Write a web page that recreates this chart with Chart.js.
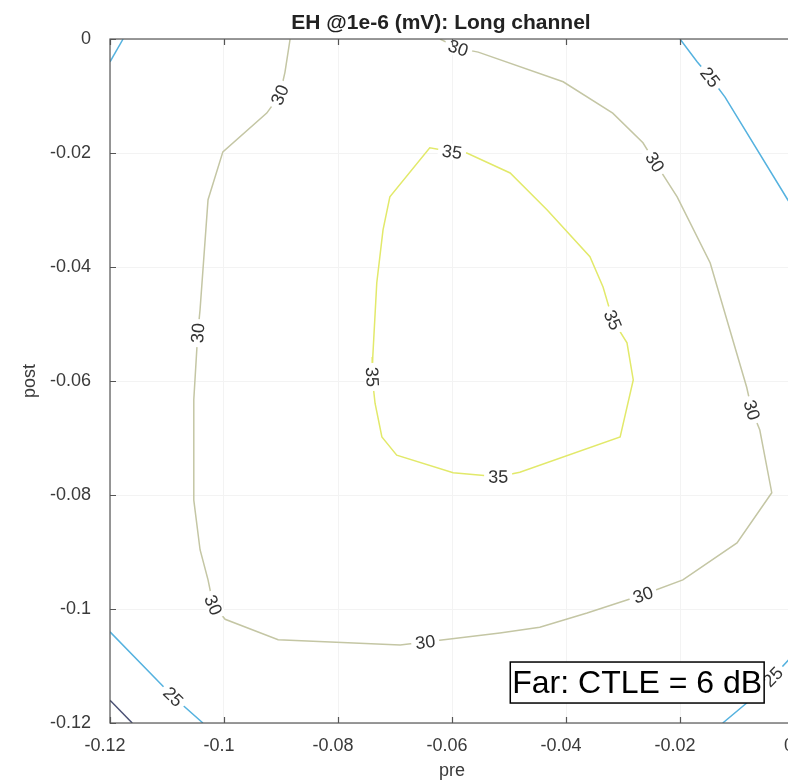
<!DOCTYPE html>
<html>
<head>
<meta charset="utf-8">
<script src="https://cdn.jsdelivr.net/npm/chart.js@4.4.1/dist/chart.umd.min.js"></script>
<style>
  html, body { margin: 0; padding: 0; background: #fff; overflow: hidden; }
  #wrap { position: relative; width: 840px; height: 783px; }
</style>
</head>
<body>
<div id="wrap"><canvas id="eh"></canvas></div>
<script>
// Eye height (mV) at 1e-6 over pre/post cursor taps, contour levels 20/25/30/35
const xTicks = [-0.12, -0.1, -0.08, -0.06, -0.04, -0.02, 0];
const yTicks = [-0.12, -0.1, -0.08, -0.06, -0.04, -0.02, 0];
const xTickLabels = ['-0.12', '-0.1', '-0.08', '-0.06', '-0.04', '-0.02', '0'];
const yTickLabels = ['-0.12', '-0.1', '-0.08', '-0.06', '-0.04', '-0.02', '0'];

// contour vertices as [pre, post]
const c20 = [[-0.1200, -0.1160], [-0.1161, -0.1200]];

const c25TopLeft = [[-0.1200, -0.0040], [-0.1177, 0.0000]];
const c25TopRight = [
    [-0.0200, 0.0000], [-0.0170, -0.0040], [-0.0147, -0.0067],
    [-0.0121, -0.0102], [-0.0011, -0.0282], [0.0000, -0.0298]
];
const c25BottomLeft = [[-0.1200, -0.1040], [-0.1089, -0.1154], [-0.1037, -0.1200]];
const c25BottomRight = [
    [-0.0125, -0.1200], [-0.0083, -0.1165], [-0.0037, -0.1119], [0.0000, -0.1079]
];

const c30 = [
    [-0.0884, 0.0000], [-0.0893, -0.0058], [-0.0902, -0.0098], [-0.0925, -0.0130],
    [-0.1002, -0.0198], [-0.1028, -0.0282], [-0.1042, -0.0475], [-0.1046, -0.0516],
    [-0.1053, -0.0633], [-0.1053, -0.0726], [-0.1053, -0.0809], [-0.1042, -0.0896],
    [-0.1028, -0.0949], [-0.1019, -0.0993], [-0.0998, -0.1018], [-0.0905, -0.1054],
    [-0.0691, -0.1063], [-0.0647, -0.1058], [-0.0516, -0.1042], [-0.0446, -0.1032],
    [-0.0363, -0.1007], [-0.0265, -0.0975], [-0.0195, -0.0949], [-0.0100, -0.0884],
    [-0.0039, -0.0796], [-0.0060, -0.0686], [-0.0074, -0.0651], [-0.0083, -0.0611],
    [-0.0147, -0.0393], [-0.0205, -0.0277], [-0.0244, -0.0216], [-0.0265, -0.0182],
    [-0.0318, -0.0130], [-0.0405, -0.0075], [-0.0554, -0.0023], [-0.0589, -0.0016],
    [-0.0621, 0.0000]
];

const c35 = [
    [-0.0600, -0.0198], [-0.0639, -0.0191], [-0.0709, -0.0277], [-0.0721, -0.0335],
    [-0.0732, -0.0428], [-0.0739, -0.0558], [-0.0740, -0.0593], [-0.0735, -0.0639],
    [-0.0723, -0.0698], [-0.0697, -0.0730], [-0.0598, -0.0761], [-0.0519, -0.0768],
    [-0.0481, -0.0760], [-0.0305, -0.0698], [-0.0282, -0.0598], [-0.0293, -0.0533],
    [-0.0318, -0.0493], [-0.0335, -0.0435], [-0.0358, -0.0382], [-0.0433, -0.0300],
    [-0.0498, -0.0235], [-0.0574, -0.0200], [-0.0600, -0.0198]
];

// vertex indices where clabel text sits
const labels25TopRight = [2];
const labels25BottomLeft = [1];
const labels25BottomRight = [2];
const labels30 = [2, 7, 13, 17, 21, 26, 30, 35];
const labels35 = [0, 6, 11, 16];

const noteText = 'Far: CTLE = 6 dB';
const notePos = [-0.0496, -0.1129];
const titleText = 'EH @1e-6 (mV): Long channel';

const levelColors = { 20: '#4b5175', 25: '#55b2df', 30: '#c4c6a4', 35: '#e2e96a' };
const FONT = '"Liberation Sans", Arial, sans-serif';
const TEXT = '#3a3a3a';

function contour(level, pts, labelAt, closed) {
    return {
        label: String(level),
        level: level,
        data: pts.map(p => ({ x: p[0], y: p[1] })),
        labelAt: labelAt || [],
        closed: !!closed,
        showLine: true,
        borderColor: levelColors[level],
        borderWidth: 1.5,
        pointRadius: 0,
        tension: 0,
        fill: false
    };
}

const datasets = [
    contour(20, c20),
    contour(25, c25TopLeft),
    contour(25, c25TopRight, labels25TopRight),
    contour(25, c25BottomLeft, labels25BottomLeft),
    contour(25, c25BottomRight, labels25BottomRight),
    contour(30, c30, labels30),
    contour(35, c35, labels35, true)
];

// inline level labels, rotated along the line and kept upright
const contourLabels = {
    id: 'contourLabels',
    afterDatasetsDraw(chart) {
        const { ctx, scales: { x, y } } = chart;
        ctx.save();
        ctx.font = '18px ' + FONT;
        ctx.textAlign = 'center';
        ctx.textBaseline = 'middle';
        chart.data.datasets.forEach(ds => {
            const pts = ds.data;
            const n = pts.length;
            ds.labelAt.forEach(i => {
                const prev = i > 0 ? pts[i - 1] : (ds.closed ? pts[n - 2] : pts[i]);
                const next = i < n - 1 ? pts[i + 1] : pts[i];
                const px = x.getPixelForValue(pts[i].x);
                const py = y.getPixelForValue(pts[i].y);
                let ang = Math.atan2(
                    y.getPixelForValue(next.y) - y.getPixelForValue(prev.y),
                    x.getPixelForValue(next.x) - x.getPixelForValue(prev.x)
                );
                if (ang > Math.PI / 2) ang -= Math.PI;
                if (ang <= -Math.PI / 2) ang += Math.PI;
                const w = ctx.measureText(ds.label).width;
                ctx.save();
                ctx.translate(px, py);
                ctx.rotate(ang);
                ctx.fillStyle = '#fff';
                ctx.fillRect(-w / 2 - 4, -8, w + 8, 16);
                ctx.fillStyle = '#333';
                ctx.fillText(ds.label, 0, 1);
                ctx.restore();
            });
        });
        ctx.restore();
    }
};

// box with inward ticks, title and the annotation text
const frame = {
    id: 'frame',
    afterDraw(chart) {
        const { ctx, chartArea: a, scales: { x, y } } = chart;
        ctx.save();
        ctx.strokeStyle = '#555';
        ctx.lineWidth = 1.2;
        ctx.strokeRect(a.left, a.top, a.right - a.left, a.bottom - a.top);
        ctx.beginPath();
        x.ticks.forEach(t => {
            const px = Math.round(x.getPixelForValue(t.value)) + 0.5;
            ctx.moveTo(px, a.bottom); ctx.lineTo(px, a.bottom - 6);
            ctx.moveTo(px, a.top); ctx.lineTo(px, a.top + 6);
        });
        y.ticks.forEach(t => {
            const py = Math.round(y.getPixelForValue(t.value)) + 0.5;
            ctx.moveTo(a.left, py); ctx.lineTo(a.left + 6, py);
            ctx.moveTo(a.right, py); ctx.lineTo(a.right - 6, py);
        });
        ctx.stroke();

        ctx.fillStyle = '#222';
        ctx.font = 'bold 21px ' + FONT;
        ctx.textAlign = 'center';
        ctx.textBaseline = 'alphabetic';
        ctx.fillText(titleText, (a.left + a.right) / 2 - 11, 29);

        ctx.font = '32px ' + FONT;
        ctx.textAlign = 'left';
        ctx.textBaseline = 'middle';
        const nx = x.getPixelForValue(notePos[0]);
        const ny = y.getPixelForValue(notePos[1]);
        const nw = ctx.measureText(noteText).width;
        ctx.fillStyle = '#fff';
        ctx.fillRect(nx - 1, ny - 20.5, nw + 4, 41);
        ctx.strokeStyle = '#000';
        ctx.lineWidth = 1.5;
        ctx.strokeRect(nx - 1, ny - 20.5, nw + 4, 41);
        ctx.fillStyle = '#000';
        ctx.fillText(noteText, nx + 1, ny + 2);
        ctx.restore();
    }
};

Chart.defaults.font.family = FONT;

new Chart(document.getElementById('eh'), {
    type: 'scatter',
    data: { datasets: datasets },
    options: {
        responsive: true,
        maintainAspectRatio: false,
        animation: false,
        layout: { padding: { top: 39, right: 46, left: 0, bottom: 0 } },
        plugins: {
            legend: { display: false },
            tooltip: { enabled: false },
            title: { display: false }
        },
        scales: {
            x: {
                type: 'linear',
                min: -0.12,
                max: 0,
                afterFit: s => { s.height = 60; },
                afterBuildTicks: s => { s.ticks = xTicks.map(v => ({ value: v })); },
                ticks: {
                    color: TEXT,
                    font: { size: 18 },
                    padding: 12,
                    labelOffset: -5,
                    maxRotation: 0,
                    callback: (v, i) => xTickLabels[i]
                },
                grid: { color: '#f3f3f3', drawTicks: false },
                border: { display: false },
                title: {
                    display: true,
                    text: 'pre',
                    color: TEXT,
                    font: { size: 18 },
                    padding: { top: 0, bottom: 1 }
                }
            },
            y: {
                type: 'linear',
                min: -0.12,
                max: 0,
                afterFit: s => { s.width = 110; },
                afterBuildTicks: s => { s.ticks = yTicks.map(v => ({ value: v })); },
                ticks: {
                    color: TEXT,
                    font: { size: 18 },
                    padding: 19,
                    callback: (v, i) => yTickLabels[i]
                },
                grid: { color: '#f3f3f3', drawTicks: false },
                border: { display: false },
                title: {
                    display: true,
                    text: 'post',
                    color: TEXT,
                    font: { size: 18 },
                    padding: { top: 19, bottom: 0 }
                }
            }
        }
    },
    plugins: [contourLabels, frame]
});
</script>
</body>
</html>
